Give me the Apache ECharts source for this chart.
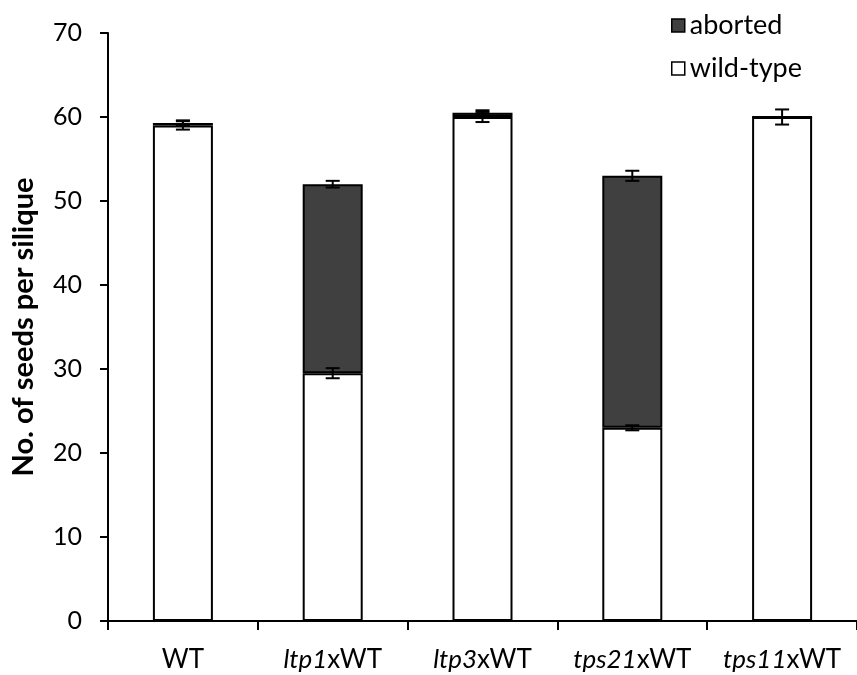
<!DOCTYPE html>
<html><head><meta charset="utf-8">
<script src="https://cdn.jsdelivr.net/npm/echarts@6/dist/echarts.min.js"></script>
<style>html,body{margin:0;padding:0;background:#fff}#c{width:857px;height:675px}</style>
</head><body><div id="c"></div>
<script>
const categories = ['WT', 'ltp1xWT', 'ltp3xWT', 'tps21xWT', 'tps11xWT'];
const categoryLabels = ['WT', '{i|ltp1}xWT', '{i|ltp3}xWT', '{i|tps21}xWT', '{i|tps11}xWT'];
const wildType = [59.0, 29.5, 60.0, 23.0, 60.0];
const aborted = [0.3, 22.5, 0.5, 30.0, 0.0];
const wildTypeErr = [0.5, 0.6, 0.6, 0.3, 0.9];
const abortedErr = [0.3, 0.4, 0.3, 0.6, 0.0];
const yTicks = [0, 10, 20, 30, 40, 50, 60, 70];

const FONT = 'Lato, "Open Sans", sans-serif';
const chart = echarts.init(document.getElementById('c'));

function errData(base, err) {
  return categories.map((c, i) => [i, base[i], err[i]]);
}
const totals = wildType.map((v, i) => v + aborted[i]);

function renderErr(params, api) {
  const i = api.value(0), v = api.value(1), e = api.value(2);
  if (!e) return null;
  const top = api.coord([i, v + e]);
  const bot = api.coord([i, v - e]);
  const hw = 7;
  const st = { stroke: '#000', lineWidth: 2 };
  return { type: 'group', children: [
    { type: 'line', shape: { x1: top[0], y1: top[1], x2: bot[0], y2: bot[1] }, style: st },
    { type: 'line', shape: { x1: top[0] - hw, y1: top[1], x2: top[0] + hw, y2: top[1] }, style: st },
    { type: 'line', shape: { x1: bot[0] - hw, y1: bot[1], x2: bot[0] + hw, y2: bot[1] }, style: st }
  ]};
}

chart.setOption({
  animation: false,
  backgroundColor: '#fff',
  grid: { left: 108, right: 0, top: 33, bottom: 54, containLabel: false, outerBoundsMode: 'none' },
  legend: {
    orient: 'vertical', left: 666, top: 7, itemGap: 16,
    itemWidth: 13, itemHeight: 13, icon: 'rect',
    textStyle: { fontFamily: FONT, fontSize: 27, color: '#000', padding: [0, 0, 0, 0] },
    data: [
      { name: 'aborted', itemStyle: { color: '#404040', borderColor: '#000', borderWidth: 1.5 } },
      { name: 'wild-type', itemStyle: { color: '#fff', borderColor: '#000', borderWidth: 1.5 } }
    ]
  },
  xAxis: {
    type: 'category', data: categories,
    axisLine: { lineStyle: { color: '#000', width: 2 } },
    axisTick: { show: true, interval: 0, length: 9, lineStyle: { color: '#000', width: 2 } },
    axisLabel: {
      interval: 0, margin: 26, color: '#000', fontFamily: FONT, fontSize: 26,
      formatter: (v, idx) => categoryLabels[idx],
      rich: { i: { fontStyle: 'italic', fontFamily: FONT, fontSize: 26, color: '#000' } }
    }
  },
  yAxis: {
    type: 'value', min: 0, max: 70, interval: 10,
    name: 'No. of seeds per silique', nameLocation: 'middle', nameGap: 70,
    nameTextStyle: { fontFamily: FONT, fontSize: 29, fontWeight: 'bold', color: '#000' },
    axisLine: { show: true, lineStyle: { color: '#000', width: 2 } },
    axisTick: { show: true, length: 8, lineStyle: { color: '#000', width: 2 } },
    splitLine: { show: false },
    axisLabel: { margin: 26, color: '#000', fontFamily: FONT, fontSize: 25,
      formatter: v => yTicks.includes(v) ? String(v) : '' }
  },
  series: [
    { name: 'wild-type', type: 'bar', stack: 's', data: wildType, barWidth: 60,
      itemStyle: { color: '#fff', borderColor: '#000', borderWidth: 2 } },
    { name: 'aborted', type: 'bar', stack: 's', data: aborted, barWidth: 60,
      itemStyle: { color: '#404040', borderColor: '#000', borderWidth: 2 } },
    { name: 'errWT', type: 'custom', renderItem: renderErr, data: errData(wildType, wildTypeErr), z: 10,
      encode: { x: 0, y: 1 } },
    { name: 'errAb', type: 'custom', renderItem: renderErr, data: errData(totals, abortedErr), z: 10,
      encode: { x: 0, y: 1 } }
  ]
});
</script></body></html>
